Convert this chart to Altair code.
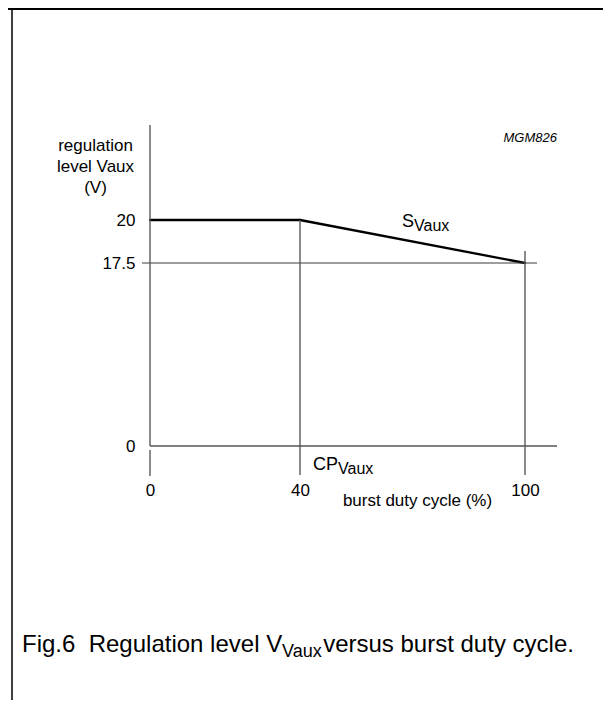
import altair as alt
import pandas as pd

FONT = "Liberation Sans"
NB = "\u00a0"

# ---------------- data ----------------
duty = [0, 40, 100]            # burst duty cycle (%)
level = [20, 20, 17.5]         # regulation level Vaux (V)
x_ticks = [0, 40, 100]
y_ticks = [0, 17.5, 20]
y_title = ["regulation", "level Vaux", "(V)"]
x_title = "burst duty cycle (%)"
fig_id = "MGM826"
cp_label = ["CP", "Vaux"]
s_label = ["S", "Vaux"]
caption = ["Fig.6" + NB + NB + "Regulation" + NB + "level" + NB + "V", "Vaux",
           NB + "versus" + NB + "burst" + NB + "duty" + NB + "cycle."]

ADV = {" ": 278, NB: 278, ".": 278, "6": 556, "F": 611, "i": 222, "g": 556, "R": 722,
       "e": 556, "u": 556, "l": 222, "a": 556, "t": 278, "o": 556, "n": 556, "v": 500,
       "V": 667, "C": 722, "P": 667, "S": 667, "x": 500, "r": 333, "s": 500, "b": 556,
       "d": 556, "y": 500, "c": 500}


def tw(s, size):
    return sum(ADV.get(c, 556) for c in s) * size / 1000.0


W, H = 375, 226
PL, PT = 142, 212
PR = 595 - PL - W
PB = 692 - PT - H

xs = alt.Scale(domain=[0, 100], range=[0, W], nice=False, zero=False)
ys = alt.Scale(domain=[0, 17.5, 20], range=[H, 43, 0], nice=False, zero=False)

FS = 17
AXIS_GRAY = "#5a5a5a"
REF_GRAY = "#3a3a3a"
LABEL = "format(datum.value, '~g')"

x_axis = alt.Axis(values=x_ticks, title=x_title, domain=False, ticks=False, tickSize=0,
                  grid=False, labelPadding=36, labelFontSize=FS, labelColor="black",
                  labelFlush=False, labelFont=FONT, titleFont=FONT, titleFontSize=FS,
                  titleFontWeight="normal", titleColor="black", titleX=267, titleY=59,
                  titleAlign="center", titleBaseline="alphabetic", titleAnchor="start",
                  labelOverlap=False, labelExpr=LABEL)
y_axis = alt.Axis(values=y_ticks, title=y_title, domain=False, ticks=False, tickSize=0,
                  grid=False, labelPadding=15, labelFontSize=FS, labelColor="black",
                  labelFont=FONT, titleFont=FONT, titleFontSize=FS, titleFontWeight="normal",
                  titleColor="black", titleAngle=0, titleX=-55, titleY=-70,
                  titleAlign="center", titleBaseline="alphabetic", titleLineHeight=21,
                  titleAnchor="start", labelOverlap=False, labelExpr=LABEL)


def X(f):
    return alt.X(f, scale=xs, axis=x_axis)


def Y(f):
    return alt.Y(f, scale=ys, axis=y_axis)


# characteristic as straight segments between successive points
seg_df = pd.DataFrame({"x": duty[:-1], "y": level[:-1], "x2": duty[1:], "y2": level[1:]})
curve = alt.Chart(seg_df).mark_rule(color="black", strokeWidth=2.3, strokeCap="round").encode(
    x=X("x:Q"), y=Y("y:Q"), x2="x2:Q", y2="y2:Q")

# y axis line
yline = alt.Chart(pd.DataFrame({"x": [0], "y": [20], "y2": [0]})).mark_rule(
    color=AXIS_GRAY, strokeWidth=1.4, yOffset=-95).encode(x=X("x:Q"), y=Y("y:Q"), y2="y2:Q")

# tick stub below the axis at x=0
stub0 = alt.Chart(pd.DataFrame({"x": [0], "y": [0], "y2": [0]})).mark_rule(
    color=AXIS_GRAY, strokeWidth=1.4, yOffset=4, y2Offset=30).encode(
    x=X("x:Q"), y=Y("y:Q"), y2="y2:Q")

# drop lines at the break points
drop_df = pd.DataFrame({"x": duty[1:], "y": level[1:], "y2": [0, 0]})
drops = alt.Chart(drop_df).mark_rule(color=AXIS_GRAY, strokeWidth=1.4, y2Offset=29).encode(
    x=X("x:Q"), y=Y("y:Q"), y2="y2:Q")

# small extension above the end point
ext = alt.Chart(pd.DataFrame({"x": [duty[-1]], "y": [level[-1]], "y2": [level[-1]]})).mark_rule(
    color=AXIS_GRAY, strokeWidth=1.4, yOffset=-12).encode(x=X("x:Q"), y=Y("y:Q"), y2="y2:Q")

# zero line (x axis)
zero = alt.Chart(pd.DataFrame({"x": [0], "x2": [100], "y": [0]})).mark_rule(
    color="black", strokeWidth=1.1, x2Offset=32).encode(x=X("x:Q"), x2="x2:Q", y=Y("y:Q"))

# 17.5 reference line
ref = alt.Chart(pd.DataFrame({"x": [0], "x2": [100], "y": [level[-1]]})).mark_rule(
    color=REF_GRAY, strokeWidth=1.0, xOffset=-8, x2Offset=12).encode(
    x=X("x:Q"), x2="x2:Q", y=Y("y:Q"))


def txt(df, size, dx, dy):
    return alt.Chart(df).mark_text(font=FONT, fontSize=size, align="left",
                                   baseline="alphabetic", dx=dx, dy=dy, color="black").encode(
        x=X("x:Q"), y=Y("y:Q"), text="t:N")


AN, ANS = 18, 16
cp_main = txt(pd.DataFrame({"x": [40], "y": [0], "t": [cp_label[0]]}), AN, 13, 24)
cp_sub = txt(pd.DataFrame({"x": [40], "y": [0], "t": [cp_label[1]]}), ANS, 13 + tw("CP", AN), 28)

s_main = txt(pd.DataFrame({"x": [70], "y": [18.75], "t": [s_label[0]]}), AN, -10.5, -15)
s_sub = txt(pd.DataFrame({"x": [70], "y": [18.75], "t": [s_label[1]]}), ANS, -10.5 + tw("S", AN), -11)

mgm = alt.Chart(pd.DataFrame({"t": [fig_id]})).mark_text(
    font=FONT, fontSize=13, fontStyle="italic", align="right", baseline="alphabetic",
    color="black").encode(x=alt.value(407), y=alt.value(-78), text="t:N")

CAP = 24
CAPS = 18
cx0 = -128
c1 = alt.Chart(pd.DataFrame({"t": [caption[0]]})).mark_text(
    font=FONT, fontSize=CAP, align="left", baseline="alphabetic", color="black").encode(
    x=alt.value(cx0), y=alt.value(432), text="t:N")
c2 = alt.Chart(pd.DataFrame({"t": [caption[1]]})).mark_text(
    font=FONT, fontSize=CAPS, align="left", baseline="alphabetic", color="black").encode(
    x=alt.value(cx0 + tw(caption[0], CAP)), y=alt.value(437), text="t:N")
c3 = alt.Chart(pd.DataFrame({"t": [caption[2]]})).mark_text(
    font=FONT, fontSize=CAP, align="left", baseline="alphabetic", color="black").encode(
    x=alt.value(cx0 + tw(caption[0], CAP) + tw(caption[1], CAPS)), y=alt.value(432), text="t:N")

frame_top = alt.Chart(pd.DataFrame({"k": [0]})).mark_rule(color="black", strokeWidth=2).encode(
    x=alt.value(-PL), x2=alt.value(W + PR), y=alt.value(-PT + 1))
frame_left = alt.Chart(pd.DataFrame({"k": [0]})).mark_rule(color="black", strokeWidth=1.5).encode(
    x=alt.value(-138), y=alt.value(-PT), y2=alt.value(H + PB))

chart = alt.layer(
    curve, frame_top, frame_left, ref, zero, yline, stub0, drops, ext,
    cp_main, cp_sub, s_main, s_sub, mgm, c1, c2, c3,
).properties(
    width=W, height=H,
    padding={"left": PL, "top": PT, "right": PR, "bottom": PB},
    autosize=alt.AutoSizeParams(type="none"),
    background="white",
).configure(font=FONT).configure_view(
    stroke="transparent", strokeWidth=0).configure_axis(grid=False)

chart.save("out.html", embed_options={"renderer": "svg", "actions": False})
